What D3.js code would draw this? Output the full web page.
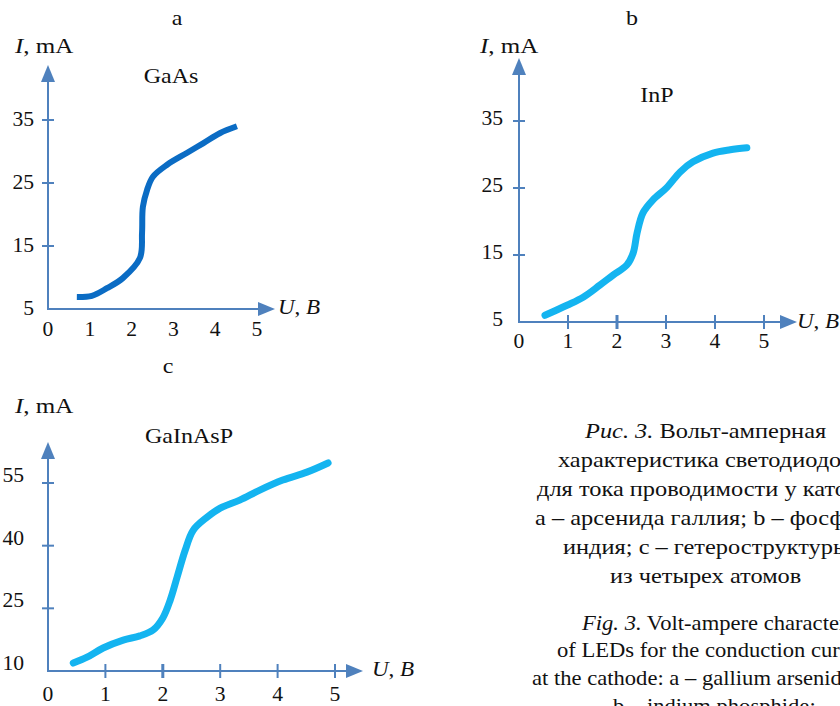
<!DOCTYPE html>
<html>
<head>
<meta charset="utf-8">
<script src="https://cdn.jsdelivr.net/npm/d3@7"></script>
<style>
  html, body { margin: 0; padding: 0; background: #fff; }
  svg text { font-family: "Liberation Serif", "Times New Roman", serif; fill: #111; }
</style>
</head>
<body>
<div id="chart"></div>
<script>
// Данные
const uTicks = [0, 1, 2, 3, 4, 5];

const gaasTicks = [5, 15, 25, 35];
const gaasU = [0.69, 1.05, 1.41, 1.79, 2.20, 2.25, 2.27, 2.37, 2.51, 2.85, 3.33, 3.71, 4.11, 4.52];
const gaasI = [6.9, 7.1, 8.3, 9.9, 13.1, 17.1, 21.2, 23.9, 26.0, 27.9, 29.8, 31.3, 32.9, 34.0];

const inpTicks = [5, 15, 25, 35];
const inpU = [0.53, 0.98, 1.31, 1.65, 1.92, 2.20, 2.33, 2.41, 2.53, 2.73, 3.02, 3.29, 3.55, 3.96, 4.31, 4.65];
const inpI = [6.0, 7.5, 8.7, 10.5, 12.0, 13.5, 15.3, 18.3, 21.3, 23.2, 25.1, 27.4, 28.9, 30.2, 30.7, 31.0];

const gainaspTicks = [10, 25, 40, 55];
const gainaspU = [0.44, 0.68, 0.96, 1.31, 1.60, 1.83, 2.00, 2.13, 2.25, 2.39, 2.53, 2.77, 3.00, 3.34, 3.69, 4.09, 4.51, 4.88];
const gainaspI = [11.9, 13.3, 15.5, 17.4, 18.4, 19.8, 22.7, 27.0, 32.5, 38.9, 43.7, 46.8, 49.0, 50.9, 53.3, 55.7, 57.6, 59.8];

const captionRu = [
    [["Рис. 3.", true], [" Вольт-амперная", false]],
    [["характеристика светодиодов", false]],
    [["для тока проводимости у катода:", false]],
    [["а – арсенида галлия; b – фосфида", false]],
    [["индия; c – гетероструктуры", false]],
    [["из четырех атомов", false]]
];
const captionEn = [
    [["Fig. 3.", true], [" Volt-ampere characteristics", false]],
    [["of LEDs for the conduction current", false]],
    [["at the cathode: a – gallium arsenide;", false]],
    [["b – indium phosphide;", false]]
];

const COLORS = {
    axis: "#4f81bd",
    dark: "#0b6cc4",
    light: "#14b4f0"
};

const W = 840, H = 706;
const svg = d3.select("#chart").append("svg").attr("width", W).attr("height", H);
svg.append("rect").attr("width", W).attr("height", H).attr("fill", "#fff");

// шрифт в оригинале шире, чем Liberation Serif — растягиваем по горизонтали
function label(parent, x, y, sx, anchor) {
    return parent.append("text")
        .attr("transform", `translate(${x},${y}) scale(${sx},1)`)
        .attr("text-anchor", anchor || "start")
        .attr("font-size", 20);
}

// --- Панели ---
const panels = [
    {
        letter: "a", letterPos: [177, 25], name: "GaAs", namePos: [171, 83],
        x: [48, 257], y: [309, 120], xTip: 275, yTip: 65,
        yDomain: [5, 35], yTicks: gaasTicks, U: gaasU, I: gaasI,
        color: COLORS.dark, width: 6, cap: "butt",
        yLabelX: 34, yLabelDy: 6, xLabelDy: 27, xTicks: false,
        iPos: [15, 53], uPos: [278, 314]
    },
    {
        letter: "b", letterPos: [632, 25], name: "InP", namePos: [657, 102],
        x: [519, 764], y: [322, 121], xTip: 797, yTip: 58,
        yDomain: [5, 35], yTicks: inpTicks, U: inpU, I: inpI,
        color: COLORS.light, width: 7, cap: "round",
        yLabelX: 503, yLabelDy: 4, xLabelDy: 26, xTicks: true,
        iPos: [480, 53], uPos: [797, 328]
    },
    {
        letter: "c", letterPos: [168, 373], name: "GaInAsP", namePos: [189, 443],
        x: [48, 335], y: [671, 483], xTip: 363, yTip: 442,
        yDomain: [10, 55], yTicks: gainaspTicks, U: gainaspU, I: gainaspI,
        color: COLORS.light, width: 7, cap: "round",
        yLabelX: 24, yLabelDy: -1, xLabelDy: 30, xTicks: true,
        iPos: [15, 413], uPos: [372, 676]
    }
];

panels.forEach(drawPanel);

function drawPanel(p) {
    const g = svg.append("g");
    const x = d3.scaleLinear().domain([0, 5]).range(p.x);
    const y = d3.scaleLinear().domain(p.yDomain).range(p.y);
    const x0 = x(0), y0 = y(p.yDomain[0]);

    // оси со стрелками
    g.append("line").attr("x1", x0).attr("y1", y0).attr("x2", x0).attr("y2", p.yTip + 14)
        .attr("stroke", COLORS.axis).attr("stroke-width", 2);
    g.append("line").attr("x1", x0 - 1).attr("y1", y0).attr("x2", p.xTip - 14).attr("y2", y0)
        .attr("stroke", COLORS.axis).attr("stroke-width", 2);
    g.append("path").attr("d", `M${x0},${p.yTip} L${x0 - 7},${p.yTip + 17} L${x0 + 7},${p.yTip + 17} Z`)
        .attr("fill", COLORS.axis);
    g.append("path").attr("d", `M${p.xTip},${y0} L${p.xTip - 17},${y0 - 7} L${p.xTip - 17},${y0 + 7} Z`)
        .attr("fill", COLORS.axis);

    // деления по I
    g.selectAll(".ytick").data(p.yTicks.slice(1)).join("line")
        .attr("x1", x0 - 6).attr("x2", x0 + 6)
        .attr("y1", d => y(d)).attr("y2", d => y(d))
        .attr("stroke", COLORS.axis).attr("stroke-width", 2);
    p.yTicks.forEach(v => label(g, p.yLabelX, y(v) + p.yLabelDy, 1.08, "end").text(v));

    // деления по U
    if (p.xTicks) {
        g.selectAll(".xtick").data(uTicks.slice(1)).join("line")
            .attr("x1", d => x(d)).attr("x2", d => x(d))
            .attr("y1", y0 - 7).attr("y2", y0 + 7)
            .attr("stroke", COLORS.axis).attr("stroke-width", d => d === 2 ? 3 : 2);
    }
    uTicks.forEach(v => label(g, x(v), y0 + p.xLabelDy, 1.08, "middle").text(v));

    // подписи осей
    const iLab = label(g, p.iPos[0], p.iPos[1], 1.25);
    iLab.append("tspan").attr("font-style", "italic").text("I");
    iLab.append("tspan").text(", mA");
    const uLab = label(g, p.uPos[0], p.uPos[1], 1.15);
    uLab.append("tspan").attr("font-style", "italic").text("U");
    uLab.append("tspan").text(", ");
    uLab.append("tspan").attr("font-style", "italic").text("B");

    label(g, p.letterPos[0], p.letterPos[1], 1.2, "middle").text(p.letter);
    label(g, p.namePos[0], p.namePos[1], 1.2, "middle").text(p.name);

    // кривая ВАХ
    const pts = p.U.map((u, i) => [u, p.I[i]]);
    const line = d3.line().x(d => x(d[0])).y(d => y(d[1])).curve(d3.curveCatmullRom.alpha(0.5));
    g.append("path").datum(pts).attr("d", line)
        .attr("fill", "none").attr("stroke", p.color).attr("stroke-width", p.width)
        .attr("stroke-linecap", p.cap).attr("stroke-linejoin", "round");
}

// --- Подпись к рисунку ---
const ruX = [585, 558, 537, 535, 563, 610];
const ruY = [438, 467, 496, 525, 554, 583];
const enX = [582, 557, 532, 613];
const enY = [630, 657, 685, 713];

const cap = svg.append("g");
function captionLine(parts, x, y, sx) {
    const t = label(cap, x, y, sx);
    parts.forEach(([s, it]) => t.append("tspan").attr("font-style", it ? "italic" : "normal").text(s));
}
captionRu.forEach((parts, i) => captionLine(parts, ruX[i], ruY[i], 1.22));
captionEn.forEach((parts, i) => captionLine(parts, enX[i], enY[i], 1.13));
</script>
</body>
</html>
